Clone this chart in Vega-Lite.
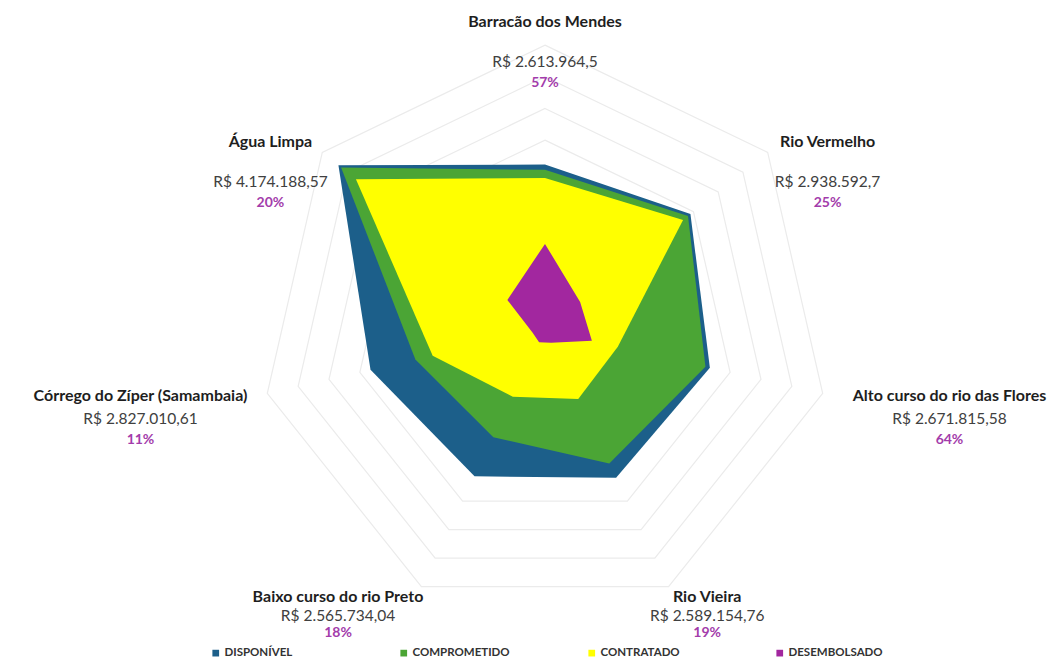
{
  "$schema": "https://vega.github.io/schema/vega-lite/v6.json",
  "width": 1052,
  "height": 659,
  "autosize": "none",
  "padding": 0,
  "background": "#ffffff",
  "config": {"view": {"stroke": null}, "font": "Lato"},
  "datasets": {
    "values": [
      {"axis": "Barracão dos Mendes", "i": 0, "series": "DISPONÍVEL", "v": 2613964.5},
      {"axis": "Rio Vermelho", "i": 1, "series": "DISPONÍVEL", "v": 2938592.7},
      {"axis": "Alto curso do rio das Flores", "i": 2, "series": "DISPONÍVEL", "v": 2671815.58},
      {"axis": "Rio Vieira", "i": 3, "series": "DISPONÍVEL", "v": 2589154.76},
      {"axis": "Baixo curso do rio Preto", "i": 4, "series": "DISPONÍVEL", "v": 2565734.04},
      {"axis": "Córrego do Zíper (Samambaia)", "i": 5, "series": "DISPONÍVEL", "v": 2827010.61},
      {"axis": "Água Limpa", "i": 6, "series": "DISPONÍVEL", "v": 4174188.57},
      {"axis": "Barracão dos Mendes", "i": 0, "series": "COMPROMETIDO", "v": 2530000},
      {"axis": "Rio Vermelho", "i": 1, "series": "COMPROMETIDO", "v": 2890000},
      {"axis": "Alto curso do rio das Flores", "i": 2, "series": "COMPROMETIDO", "v": 2600000},
      {"axis": "Rio Vieira", "i": 3, "series": "COMPROMETIDO", "v": 2340000},
      {"axis": "Baixo curso do rio Preto", "i": 4, "series": "COMPROMETIDO", "v": 1880000},
      {"axis": "Córrego do Zíper (Samambaia)", "i": 5, "series": "COMPROMETIDO", "v": 2100000},
      {"axis": "Água Limpa", "i": 6, "series": "COMPROMETIDO", "v": 4120000},
      {"axis": "Barracão dos Mendes", "i": 0, "series": "CONTRATADO", "v": 2400000},
      {"axis": "Rio Vermelho", "i": 1, "series": "CONTRATADO", "v": 2790000},
      {"axis": "Alto curso do rio das Flores", "i": 2, "series": "CONTRATADO", "v": 1180000},
      {"axis": "Rio Vieira", "i": 3, "series": "CONTRATADO", "v": 1210000},
      {"axis": "Baixo curso do rio Preto", "i": 4, "series": "CONTRATADO", "v": 1170000},
      {"axis": "Córrego do Zíper (Samambaia)", "i": 5, "series": "CONTRATADO", "v": 1820000},
      {"axis": "Água Limpa", "i": 6, "series": "CONTRATADO", "v": 3820000},
      {"axis": "Barracão dos Mendes", "i": 0, "series": "DESEMBOLSADO", "v": 1360000},
      {"axis": "Rio Vermelho", "i": 1, "series": "DESEMBOLSADO", "v": 710000},
      {"axis": "Alto curso do rio das Flores", "i": 2, "series": "DESEMBOLSADO", "v": 760000},
      {"axis": "Rio Vieira", "i": 3, "series": "DESEMBOLSADO", "v": 225000},
      {"axis": "Baixo curso do rio Preto", "i": 4, "series": "DESEMBOLSADO", "v": 215000},
      {"axis": "Córrego do Zíper (Samambaia)", "i": 5, "series": "DESEMBOLSADO", "v": 200000},
      {"axis": "Água Limpa", "i": 6, "series": "DESEMBOLSADO", "v": 760000}
    ],
    "rings": [
      {"level": 0.5, "k": [0, 1, 2, 3, 4, 5, 6]},
      {"level": 1.0, "k": [0, 1, 2, 3, 4, 5, 6]},
      {"level": 1.5, "k": [0, 1, 2, 3, 4, 5, 6]},
      {"level": 2.0, "k": [0, 1, 2, 3, 4, 5, 6]},
      {"level": 2.5, "k": [0, 1, 2, 3, 4, 5, 6]},
      {"level": 3.0, "k": [0, 1, 2, 3, 4, 5, 6]},
      {"level": 3.5, "k": [0, 1, 2, 3, 4, 5, 6]},
      {"level": 4.0, "k": [0, 1, 2, 3, 4, 5, 6]},
      {"level": 4.5, "k": [0, 1, 2, 3, 4, 5, 6]}
    ],
    "labels": [
      {"i": 0, "name": "Barracão dos Mendes", "total": "R$ 2.613.964,5", "pct": "57%"},
      {"i": 1, "name": "Rio Vermelho", "total": "R$ 2.938.592,7", "pct": "25%"},
      {"i": 2, "name": "Alto curso do rio das Flores", "total": "R$ 2.671.815,58", "pct": "64%"},
      {"i": 3, "name": "Rio Vieira", "total": "R$ 2.589.154,76", "pct": "19%"},
      {"i": 4, "name": "Baixo curso do rio Preto", "total": "R$ 2.565.734,04", "pct": "18%"},
      {"i": 5, "name": "Córrego do Zíper (Samambaia)", "total": "R$ 2.827.010,61", "pct": "11%"},
      {"i": 6, "name": "Água Limpa", "total": "R$ 4.174.188,57", "pct": "20%"}
    ]
  },
  "layer": [
    {
      "data": {"name": "rings"},
      "transform": [
        {"flatten": ["k"], "as": ["j"]},
        {"calculate": "datum.j*2*PI/7", "as": "a"},
        {"calculate": "datum.level*sin(datum.a)", "as": "x"},
        {"calculate": "datum.level*cos(datum.a)", "as": "y"}
      ],
      "mark": {"type": "line", "interpolate": "linear-closed", "stroke": "#ebebeb", "strokeWidth": 1.2},
      "encoding": {
        "x": {"field": "x", "type": "quantitative", "scale": {"domain": [-8.61, 8.01], "nice": false, "zero": false}, "axis": null},
        "y": {"field": "y", "type": "quantitative", "scale": {"domain": [-5.197, 5.213], "nice": false, "zero": false}, "axis": null},
        "detail": {"field": "level", "type": "nominal"},
        "order": {"field": "j", "type": "quantitative"}
      }
    },
    {
      "data": {"name": "values"},
      "transform": [
        {"calculate": "datum.i*2*PI/7", "as": "a"},
        {"calculate": "datum.v/1000000*sin(datum.a)", "as": "x"},
        {"calculate": "datum.v/1000000*cos(datum.a)", "as": "y"}
      ],
      "mark": {"type": "line", "interpolate": "linear-closed", "strokeWidth": 0, "fillOpacity": 1},
      "encoding": {
        "x": {"field": "x", "type": "quantitative", "scale": {"domain": [-8.61, 8.01], "nice": false, "zero": false}, "axis": null},
        "y": {"field": "y", "type": "quantitative", "scale": {"domain": [-5.197, 5.213], "nice": false, "zero": false}, "axis": null},
        "fill": {
          "field": "series", "type": "nominal",
          "scale": {"domain": ["DISPONÍVEL", "COMPROMETIDO", "CONTRATADO", "DESEMBOLSADO"], "range": ["#1c5f8a", "#4ba535", "#ffff00", "#a2279f"]},
          "legend": {
            "orient": "none", "legendX": 210, "legendY": 647, "direction": "horizontal", "columns": 4,
            "title": null, "symbolType": "square", "symbolSize": 45, "symbolStrokeWidth": 0,
            "labelFont": "Lato", "labelFontSize": 11.5, "labelFontWeight": "bold", "labelColor": "#333333",
            "labelOffset": 3, "gridAlign": "all", "columnPadding": 76
          }
        },
        "order": {"field": "i", "type": "quantitative"}
      }
    },
    {
      "data": {"name": "labels"},
      "transform": [
        {"calculate": "datum.i*2*PI/7", "as": "a"},
        {"calculate": "4.74*sin(datum.a)", "as": "ax"},
        {"calculate": "4.74*cos(datum.a)", "as": "ay"},
        {"calculate": "[0, 1, 1, 0.8, -0.8, -1, -1][datum.i]", "as": "sgn"},
        {"calculate": "datum.ax + datum.sgn*length(datum.name)*8.0/2/63.3", "as": "bx"},
        {"calculate": "datum.ay + (datum.i == 0 ? 8 : (datum.i == 3 || datum.i == 4 ? 3 : 1))/63.3", "as": "ny"},
        {"calculate": "datum.ny - (datum.i == 0 || datum.i == 1 || datum.i == 6 ? 40 : (datum.i == 2 || datum.i == 5 ? 23 : 19))/63.3", "as": "vy"},
        {"calculate": "datum.vy - (datum.i == 3 || datum.i == 4 ? 17 : 21)/63.3", "as": "py"}
      ],
      "layer": [
        {
          "mark": {"type": "text", "align": "center", "baseline": "middle", "font": "Lato", "fontSize": 16, "fontWeight": "bold", "color": "#1e1e1e"},
          "encoding": {
            "x": {"field": "bx", "type": "quantitative", "scale": {"domain": [-8.61, 8.01], "nice": false, "zero": false}, "axis": null},
            "y": {"field": "ny", "type": "quantitative", "scale": {"domain": [-5.197, 5.213], "nice": false, "zero": false}, "axis": null},
            "text": {"field": "name", "type": "nominal"}
          }
        },
        {
          "mark": {"type": "text", "align": "center", "baseline": "middle", "font": "Lato", "fontSize": 15.5, "color": "#404040"},
          "encoding": {
            "x": {"field": "bx", "type": "quantitative", "scale": {"domain": [-8.61, 8.01], "nice": false, "zero": false}, "axis": null},
            "y": {"field": "vy", "type": "quantitative", "scale": {"domain": [-5.197, 5.213], "nice": false, "zero": false}, "axis": null},
            "text": {"field": "total", "type": "nominal"}
          }
        },
        {
          "mark": {"type": "text", "align": "center", "baseline": "middle", "font": "Lato", "fontSize": 14, "fontWeight": "bold", "color": "#a33cab"},
          "encoding": {
            "x": {"field": "bx", "type": "quantitative", "scale": {"domain": [-8.61, 8.01], "nice": false, "zero": false}, "axis": null},
            "y": {"field": "py", "type": "quantitative", "scale": {"domain": [-5.197, 5.213], "nice": false, "zero": false}, "axis": null},
            "text": {"field": "pct", "type": "nominal"}
          }
        }
      ]
    }
  ]
}
